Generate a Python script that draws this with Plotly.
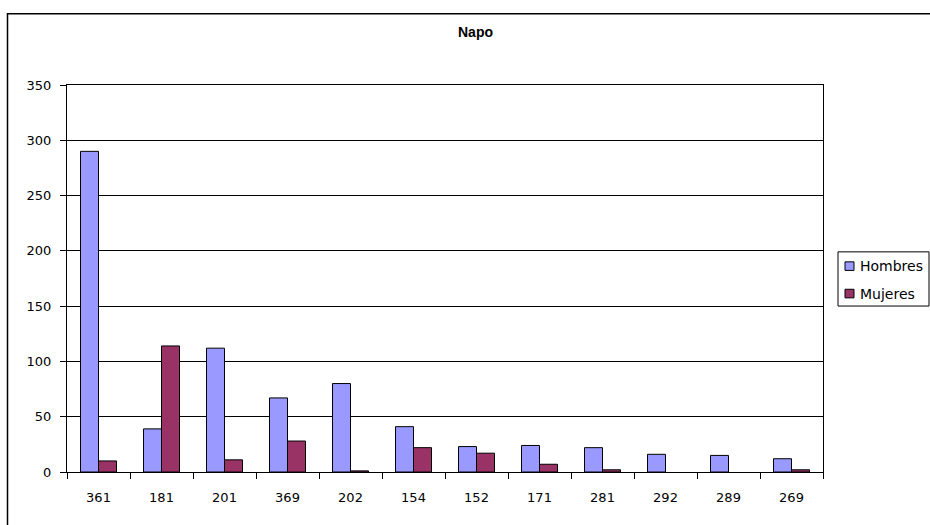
import plotly.graph_objects as go

categories = ["361", "181", "201", "369", "202", "154", "152", "171", "281", "292", "289", "269"]
hombres = [290, 39, 112, 67, 80, 41, 23, 24, 22, 16, 15, 12]
mujeres = [10, 114, 11, 28, 1, 22, 17, 7, 2, 0, 0, 2]
series_names = ["Hombres", "Mujeres"]
series_colors = ["#9999FF", "#993366"]
y_ticks = [0, 50, 100, 150, 200, 250, 300, 350]

W, H = 930, 525
L, R, T, B = 67, 823, 84.5, 472.3
pw, ph = R - L, B - T


def px(sx):
    return (sx - L) / pw


def py(sy):
    return (B - sy) / ph


fig = go.Figure()
for name, vals, col in zip(series_names, [hombres, mujeres], series_colors):
    fig.add_trace(go.Bar(name=name, x=categories, y=vals, hoverinfo="x+y+name",
                         marker=dict(color=col,
                                     line=dict(color="black",
                                               width=[1 if v else 0 for v in vals]))))

font = "DejaVu Sans, Arial, sans-serif"
fig.update_layout(
    width=W, height=H,
    margin=dict(l=L, r=W - R, t=T, b=H - B, autoexpand=False),
    paper_bgcolor="white", plot_bgcolor="white",
    barmode="group", bargap=0.4286, bargroupgap=0,
    font=dict(family=font, size=13, color="black"),
    showlegend=False,
    xaxis=dict(type="category", showline=True, linecolor="black", linewidth=1, mirror=True,
               ticks="outside", tickson="boundaries", ticklen=6, tickcolor="black",
               showgrid=False, tickfont=dict(size=13), ticklabelstandoff=13),
    yaxis=dict(range=[0, 350], tickvals=y_ticks, showline=True, linecolor="black", linewidth=1,
               mirror=True, ticks="outside", ticklen=6, tickcolor="black",
               showgrid=True, gridcolor="black", gridwidth=1, zeroline=False,
               tickfont=dict(size=13), ticklabelstandoff=6),
)

# title
fig.add_annotation(text="<b>Napo</b>", xref="paper", yref="paper", x=px(475), y=py(31.7),
                   xanchor="center", yanchor="middle", showarrow=False,
                   font=dict(family="Liberation Sans, Arial, sans-serif", size=14, color="black"))

# outer chart-area border
fig.add_shape(type="rect", xref="paper", yref="paper",
              x0=px(7.5), x1=px(980), y0=py(580), y1=py(13),
              line=dict(color="black", width=1.5), fillcolor="rgba(0,0,0,0)", layer="below")

# legend (drawn manually)
fig.add_shape(type="rect", xref="paper", yref="paper",
              x0=px(838), x1=px(929), y0=py(306), y1=py(251.7),
              line=dict(color="black", width=1), fillcolor="white")
for i, (name, col) in enumerate(zip(series_names, series_colors)):
    cy = 266 + i * 27.5
    fig.add_shape(type="rect", xref="paper", yref="paper",
                  x0=px(845), x1=px(854), y0=py(cy + 4.3), y1=py(cy - 4.3),
                  line=dict(color="black", width=1), fillcolor=col)
    fig.add_annotation(text=name, xref="paper", yref="paper", x=px(858), y=py(cy),
                       xanchor="left", yanchor="middle", showarrow=False,
                       font=dict(family=font, size=14, color="black"))

fig.write_html("out.html", config={"displayModeBar": False},
               post_script="document.body.style.margin='0px';")
